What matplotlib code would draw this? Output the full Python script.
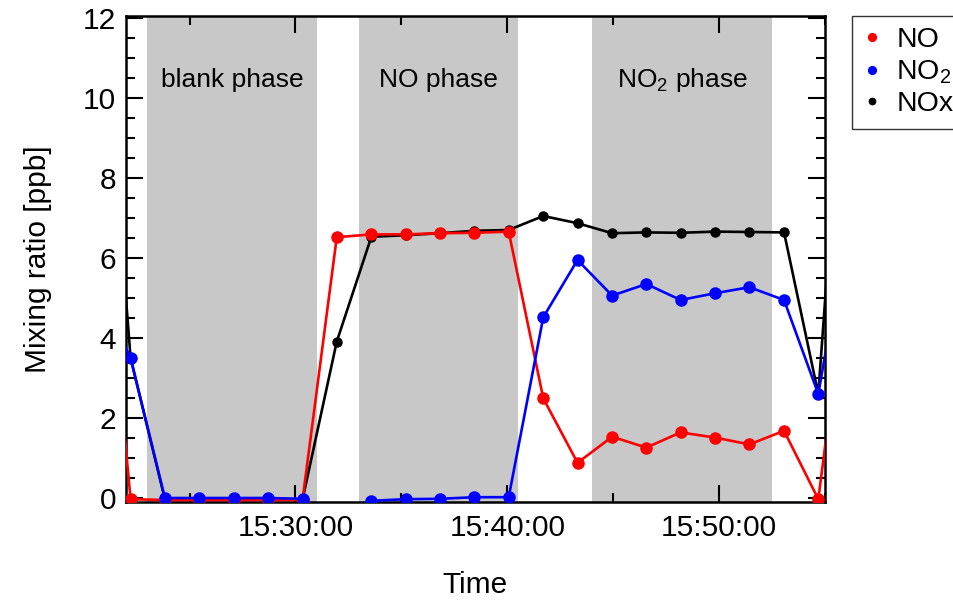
import matplotlib
matplotlib.use("Agg")
import matplotlib.pyplot as plt
import matplotlib.dates as mdates
import pandas as pd

plt.rcParams['font.family'] = ['Liberation Sans', 'DejaVu Sans']
plt.rcParams['mathtext.fontset'] = 'custom'
plt.rcParams['mathtext.rm'] = 'Liberation Sans'

DAY = "2020-01-01 "
times = ["15:20:36", "15:22:13", "15:23:50", "15:25:28", "15:27:05", "15:28:43",
         "15:30:20", "15:31:57", "15:33:35", "15:35:12", "15:36:50", "15:38:27",
         "15:40:04", "15:41:42", "15:43:19", "15:44:57", "15:46:34", "15:48:11",
         "15:49:49", "15:51:26", "15:53:04", "15:54:41", "15:56:18"]

no_vals = [9.2, -0.03, -0.05, -0.05, -0.05, -0.05, -0.05, 6.52, 6.59, 6.59,
           6.62, 6.63, 6.66, 2.49, 0.88, 1.53, 1.26, 1.64, 1.51, 1.34, 1.68,
           -0.03, 6.6]
no2_vals = [5.3, 3.5, 0.0, 0.0, 0.0, 0.0, -0.02, None, -0.07, -0.03, -0.02,
            0.02, 0.02, 4.52, 5.95, 5.06, 5.35, 4.95, 5.12, 5.27, 4.95, 2.6, 7.5]
nox_vals = [14.5, 3.5, -0.02, -0.02, -0.02, -0.02, -0.04, 3.91, 6.53, 6.57,
            6.62, 6.68, 6.70, 7.05, 6.87, 6.62, 6.64, 6.63, 6.66, 6.65, 6.64,
            2.6, 14.4]

phase_names = ["blank phase", "NO phase", r"NO$_2$ phase"]
phase_start = ["15:23:00", "15:33:00", "15:44:00"]
phase_end = ["15:31:00", "15:40:30", "15:52:30"]

x_start = "15:22:00"
x_end = "15:55:00"

t = pd.to_datetime([DAY + s for s in times])
no2_series = pd.Series(no2_vals, dtype=float)

fig = plt.figure(figsize=(9.54, 6.0), dpi=100)
ax = fig.add_axes([126/954, 1 - 502/600, (825-126)/954, (502-16)/600])

for name, s, e in zip(phase_names, phase_start, phase_end):
    ts = pd.Timestamp(DAY + s)
    te = pd.Timestamp(DAY + e)
    ax.axvspan(ts, te, color='#c8c8c8', lw=0, zorder=0)
    ax.text(ts + (te - ts) / 2, 10.45, name, ha='center', va='center',
            fontsize=19, zorder=1)

l3, = ax.plot(t, nox_vals, color='black', lw=1.9, marker='o', ms=6.5,
              zorder=3, label='NOx')
l1, = ax.plot(t, no_vals, color='#ff0000', lw=1.9, marker='o', ms=8,
              zorder=4, label='NO')
l2, = ax.plot(t, no2_series, color='#0000ff', lw=1.9, marker='o', ms=8,
              zorder=5, label=r'NO$_2$')

ax.set_xlim(pd.Timestamp(DAY + x_start), pd.Timestamp(DAY + x_end))
ax.set_ylim(-0.1, 12.05)

ax.xaxis.set_major_locator(mdates.MinuteLocator(byminute=[0, 10, 20, 30, 40, 50]))
ax.xaxis.set_minor_locator(mdates.MinuteLocator(byminute=range(0, 60, 5)))
ax.xaxis.set_major_formatter(mdates.DateFormatter('%H:%M:%S'))
ax.set_yticks(range(0, 13, 2))
ax.yaxis.set_minor_locator(matplotlib.ticker.MultipleLocator(0.5))

ax.tick_params(which='both', direction='in', top=True, right=True, width=1.5,
               labelsize=21.5)
ax.tick_params(which='major', length=12)
ax.tick_params(which='minor', length=6.5)
ax.tick_params(axis='x', which='major', pad=9)
ax.tick_params(axis='y', which='major', pad=7)
for sp in ax.spines.values():
    sp.set_linewidth(1.8)

ax.set_xlabel('Time', fontsize=21.5)
ax.set_ylabel('Mixing ratio [ppb]', fontsize=21.5)
ax.xaxis.set_label_coords(0.5, (502 - 571) / 486)
ax.yaxis.set_label_coords((52 - 126) / 699, 0.5)

leg = fig.legend(handles=[l1, l2, l3], labels=['NO', r'NO$_2$', 'NOx'],
                 loc='upper left', bbox_to_anchor=(852/954, 1 - 16/600),
                 fontsize=20.5, frameon=True, fancybox=False, edgecolor='black',
                 handlelength=0.6, handletextpad=0.55, labelspacing=0.18,
                 borderpad=0.4, borderaxespad=0, markerscale=0.7)
for h in leg.legend_handles:
    h.set_linestyle('none')
leg.get_frame().set_linewidth(1.0)

fig.savefig('out.png', dpi=100)
